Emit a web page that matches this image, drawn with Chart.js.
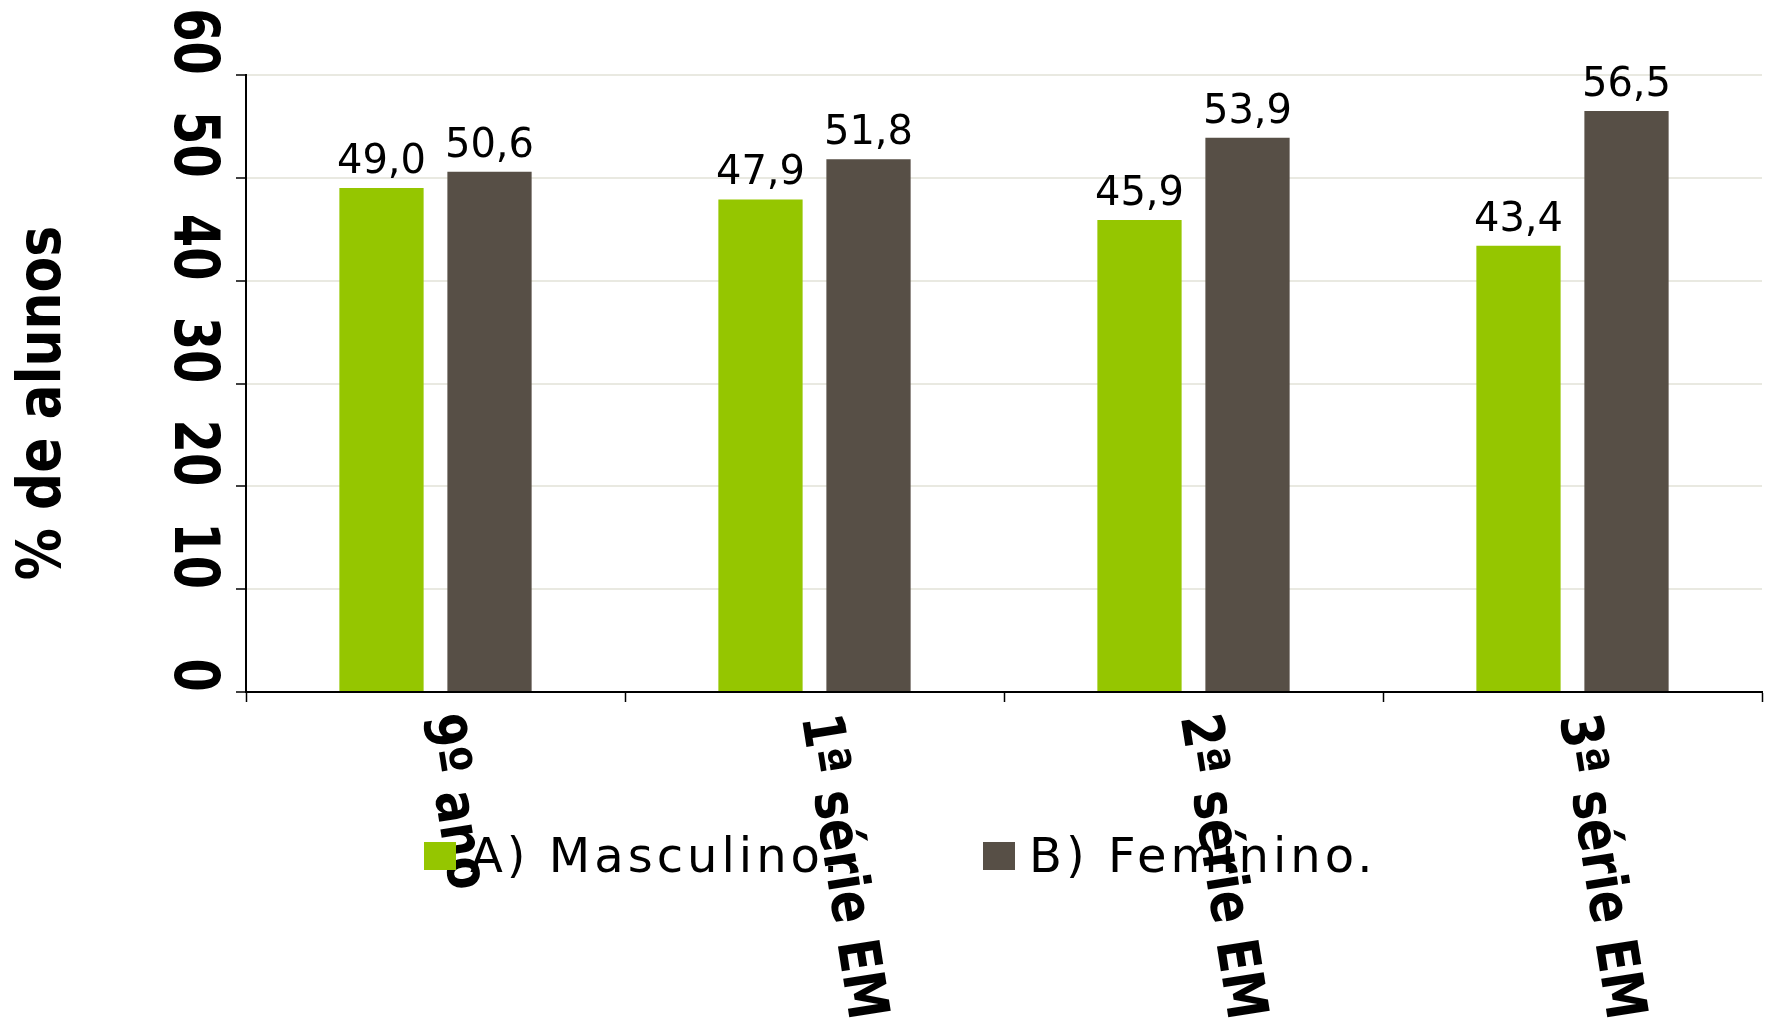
<!DOCTYPE html>
<html>
<head>
<meta charset="utf-8">
<script src="https://cdn.jsdelivr.net/npm/chart.js@4"></script>
<style>
  html, body { margin: 0; padding: 0; background: #ffffff; }
  #wrap { width: 1769px; height: 1020px; }
</style>
</head>
<body>
<div id="wrap"><canvas id="c" width="1769" height="1020"></canvas></div>
<script>
// ---- data ----
const categories = ['9º ano', '1ª série EM', '2ª série EM', '3ª série EM'];
const seriesNames = ['A) Masculino.', 'B) Feminino.'];
const masculino = [49.0, 47.9, 45.9, 43.4];
const feminino = [50.6, 51.8, 53.9, 56.5];
const yTickValues = [0, 10, 20, 30, 40, 50, 60];
const yTitle = '% de alunos';

// ---- styles ----
const GREEN = '#95C600';
const BROWN = '#574F46';
const FONT = '"DejaVu Sans", "Liberation Sans", sans-serif';

Chart.defaults.font.family = FONT;

const labelPlugin = {
  id: 'customLabels',
  afterDraw(chart) {
    const ctx = chart.ctx;
    const xs = chart.scales.x, ys = chart.scales.y;

    // data labels above bars
    ctx.save();
    ctx.fillStyle = '#000';
    ctx.font = '40px ' + FONT;
    ctx.textAlign = 'center';
    ctx.textBaseline = 'alphabetic';
    chart.data.datasets.forEach((ds, di) => {
      const meta = chart.getDatasetMeta(di);
      meta.data.forEach((bar, i) => {
        const txt = ds.data[i].toFixed(1).replace('.', ',');
        ctx.fillText(txt, bar.x, bar.y - 15);
      });
    });
    ctx.restore();

    // y tick labels (bold, rotated clockwise, ending at the tick)
    yTickValues.forEach(v => {
      const py = ys.getPixelForValue(v);
      ctx.save();
      ctx.translate(xs.left - 55, py);
      ctx.rotate(Math.PI / 2);
      ctx.scale(1, 1.3);
      ctx.font = 'bold 48px ' + FONT;
      ctx.fillStyle = '#000';
      ctx.textAlign = 'right';
      ctx.textBaseline = 'middle';
      ctx.fillText(String(v), 0, 0);
      ctx.restore();
    });

    // y axis title
    ctx.save();
    ctx.translate(44, 403);
    ctx.rotate(-Math.PI / 2);
    ctx.scale(1, 1.17);
    ctx.font = 'bold 52px ' + FONT;
    ctx.fillStyle = '#000';
    ctx.textAlign = 'center';
    ctx.textBaseline = 'middle';
    ctx.fillText(yTitle, 0, 0);
    ctx.restore();

    // x category labels (bold, rotated ~81deg clockwise)
    categories.forEach((c, i) => {
      const px = xs.getPixelForValue(i);
      ctx.save();
      ctx.translate(px + 2, ys.bottom + 23);
      ctx.rotate(81 * Math.PI / 180);
      ctx.scale(1, 1.2);
      ctx.font = 'bold 48px ' + FONT;
      ctx.fillStyle = '#000';
      ctx.textAlign = 'left';
      ctx.textBaseline = 'middle';
      ctx.fillText(c, 0, 0);
      ctx.restore();
    });

    // legend (drawn over the category labels, as in the original)
    const legendX = [424, 983];
    ctx.save();
    ctx.font = '48px ' + FONT;
    if ('letterSpacing' in ctx) ctx.letterSpacing = '4px';
    ctx.textAlign = 'left';
    ctx.textBaseline = 'alphabetic';
    chart.data.datasets.forEach((ds, di) => {
      ctx.fillStyle = ds.backgroundColor;
      ctx.fillRect(legendX[di], 842, 32, 28);
      ctx.fillStyle = '#000';
      ctx.fillText(ds.label, legendX[di] + 46, 872);
    });
    ctx.restore();
  }
};

new Chart(document.getElementById('c'), {
  type: 'bar',
  data: {
    labels: categories,
    datasets: [
      { label: seriesNames[0], data: masculino, backgroundColor: GREEN,
        categoryPercentage: 0.57, barPercentage: 0.78 },
      { label: seriesNames[1], data: feminino, backgroundColor: BROWN,
        categoryPercentage: 0.57, barPercentage: 0.78 }
    ]
  },
  options: {
    responsive: false,
    animation: false,
    devicePixelRatio: 1,
    layout: { padding: { left: 236, right: 7, top: 75, bottom: 318 } },
    plugins: { legend: { display: false }, tooltip: { enabled: false } },
    scales: {
      x: {
        ticks: { display: false },
        grid: { drawOnChartArea: false, drawTicks: true, tickLength: 10, tickColor: '#000', tickWidth: 1.5, offset: true },
        border: { display: true, color: '#000', width: 2 }
      },
      y: {
        min: 0, max: 60,
        ticks: { display: false, stepSize: 10 },
        grid: { color: '#E9E9E1', lineWidth: 2, drawTicks: true, tickLength: 10, tickColor: '#000', tickWidth: 1.5 },
        border: { display: true, color: '#000', width: 2 }
      }
    }
  },
  plugins: [labelPlugin]
});
</script>
</body>
</html>
